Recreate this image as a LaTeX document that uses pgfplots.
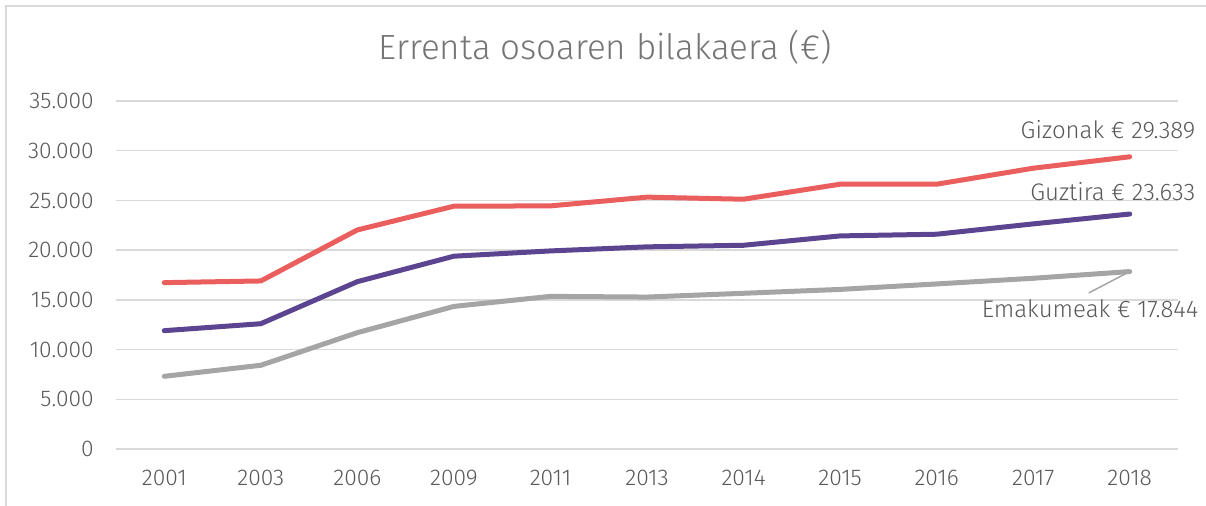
\documentclass[border=0pt]{standalone}
\usepackage{pgfplots}
\pgfplotsset{compat=1.18}
\usepackage{fontspec}
\setmainfont{Fira Sans Light}
\definecolor{cred}{HTML}{EB5E5E}
\definecolor{cpurple}{HTML}{5C4590}
\definecolor{cgray}{HTML}{A5A5A5}
\definecolor{cgrid}{HTML}{D9D9D9}
\definecolor{ctext}{HTML}{595959}
\definecolor{ctitle}{HTML}{757575}
\begin{document}
\begin{tikzpicture}
\path[use as bounding box] (0,0) rectangle (603pt,253pt);
\draw[cgrid, line width=0.75pt] (3pt,0) -- (3pt,250pt) -- (603pt,250pt);
\node[anchor=base, text=ctitle, font=\fontsize{17.5}{20}\selectfont, inner sep=0pt] at (302.5pt,223pt) {Errenta osoaren bilakaera (€)};
\begin{axis}[
  at={(58pt,28.5pt)}, anchor=south west,
  scale only axis, width=531pt, height=174pt,
  xmin=-0.5, xmax=10.5, ymin=0, ymax=35000,
  xtick={0,...,10},
  xticklabels={2001,2003,2006,2009,2011,2013,2014,2015,2016,2017,2018},
  ytick={0,5000,...,35000},
  axis line style={draw=none},
  tick style={draw=none},
  ymajorgrids, grid style={cgrid, line width=0.75pt},
  clip=false,
  scaled y ticks=false,
  /pgf/number format/.cd, 1000 sep={.}, assume math mode=true,
  /pgfplots/.cd,
  tick label style={text=ctext, font=\fontsize{11.4}{13}\selectfont, inner sep=0pt},
  yticklabel style={xshift=-11pt},
  xticklabel style={yshift=-10.5pt},
  every axis plot/.append style={line width=2.5pt, line cap=round, line join=round, mark=none},
]
\addplot[cred] coordinates {(0,16730) (1,16900) (2,22030) (3,24420) (4,24450) (5,25330) (6,25120) (7,26630) (8,26630) (9,28240) (10,29389)};
\addplot[cpurple] coordinates {(0,11900) (1,12600) (2,16830) (3,19390) (4,19920) (5,20330) (6,20490) (7,21430) (8,21600) (9,22640) (10,23633)};
\addplot[cgray] coordinates {(0,7310) (1,8420) (2,11700) (3,14340) (4,15350) (5,15280) (6,15660) (7,16050) (8,16600) (9,17170) (10,17844)};
\draw[cgray, line width=0.75pt] (axis cs:10,17844) -- ([xshift=-20.5pt]axis cs:10,15694);
\node[anchor=base east, inner sep=0pt, text=ctext, font=\fontsize{12}{14}\selectfont] at ([xshift=33pt]axis cs:10,31190) {Gizonak € 29.389};
\node[anchor=base east, inner sep=0pt, text=ctext, font=\fontsize{12}{14}\selectfont] at ([xshift=33pt]axis cs:10,24980) {Guztira € 23.633};
\node[anchor=base east, inner sep=0pt, text=ctext, font=\fontsize{12}{14}\selectfont] at ([xshift=34.5pt]axis cs:10,13180) {Emakumeak € 17.844};
\end{axis}
\end{tikzpicture}
\end{document}
